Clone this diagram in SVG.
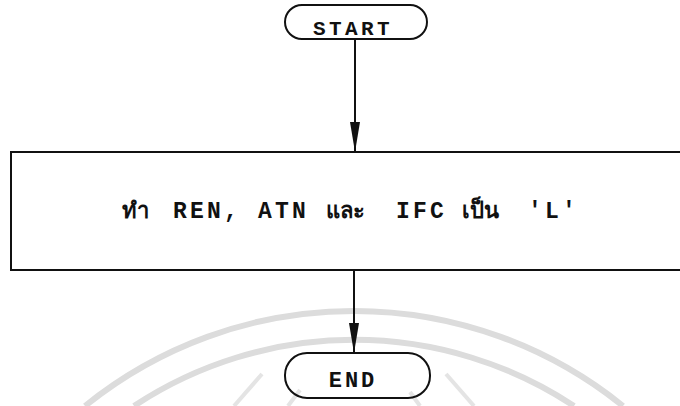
<svg xmlns="http://www.w3.org/2000/svg" width="680" height="406" viewBox="0 0 680 406">
<style>
.shape{fill:none;stroke:#111;stroke-width:2}
.lbl{font-family:"Liberation Mono","DejaVu Sans Mono","Noto Sans CJK SC",monospace;font-weight:bold;fill:#111}
.th{font-family:"Noto Sans","DejaVu Sans",sans-serif;font-weight:bold;fill:#111}
.wm{fill:none;stroke:#dcdcdc;stroke-width:6}
.ray{fill:none;stroke:#e4e4e4;stroke-width:4}
.edge{fill:none;stroke:#111;stroke-width:2}
</style>
<defs>
<marker id="ah" markerWidth="30" markerHeight="10" refX="30" refY="5" orient="auto" markerUnits="userSpaceOnUse" viewBox="0 0 30 10">
<path d="M0,0 L30,5 L0,10 Z" fill="#111"/>
</marker>
</defs>
<rect width="680" height="406" fill="#fff"/>
<g id="watermark">
<path class="wm" d="M85,406 A428,428 0 0 1 623,406"/>
<path class="wm" d="M134,406 A399,399 0 0 1 574,406"/>
<path class="ray" d="M234,406 L262,374"/>
<path class="ray" d="M288,406 L300,390"/>
<path class="ray" d="M420,406 L410,392"/>
<path class="ray" d="M474,406 L446,374"/>
</g>
<g id="connectors">
<line class="edge" x1="355" y1="39" x2="355" y2="152" marker-end="url(#ah)"/>
<line class="edge" x1="354" y1="270" x2="354" y2="353" marker-end="url(#ah)"/>
</g>
<g id="start">
<rect class="shape" x="285" y="5" width="142" height="34" rx="17" ry="17"/>
<text class="lbl" x="313" y="35" font-size="21" letter-spacing="3.4">START</text>
</g>
<g id="process">
<path class="shape" d="M682,152 L11,152 L11,270 L682,270"/>
<text class="th" x="122" y="218" font-size="22">ทำ</text>
<text class="lbl" x="173" y="218" font-size="23" letter-spacing="3.2">REN,</text>
<text class="lbl" x="258" y="218" font-size="23" letter-spacing="3.2">ATN</text>
<text class="th" x="326" y="218" font-size="22">และ</text>
<text class="lbl" x="396" y="218" font-size="23" letter-spacing="3.2">IFC</text>
<text class="th" x="462" y="218" font-size="22">เป็น</text>
<text class="lbl" x="528" y="218" font-size="23" letter-spacing="3.2">'L'</text>
</g>
<g id="end">
<rect class="shape" x="285" y="353" width="145" height="45" rx="22" ry="22"/>
<text class="lbl" x="353" y="387" font-size="22" letter-spacing="3" text-anchor="middle">END</text>
</g>
</svg>
